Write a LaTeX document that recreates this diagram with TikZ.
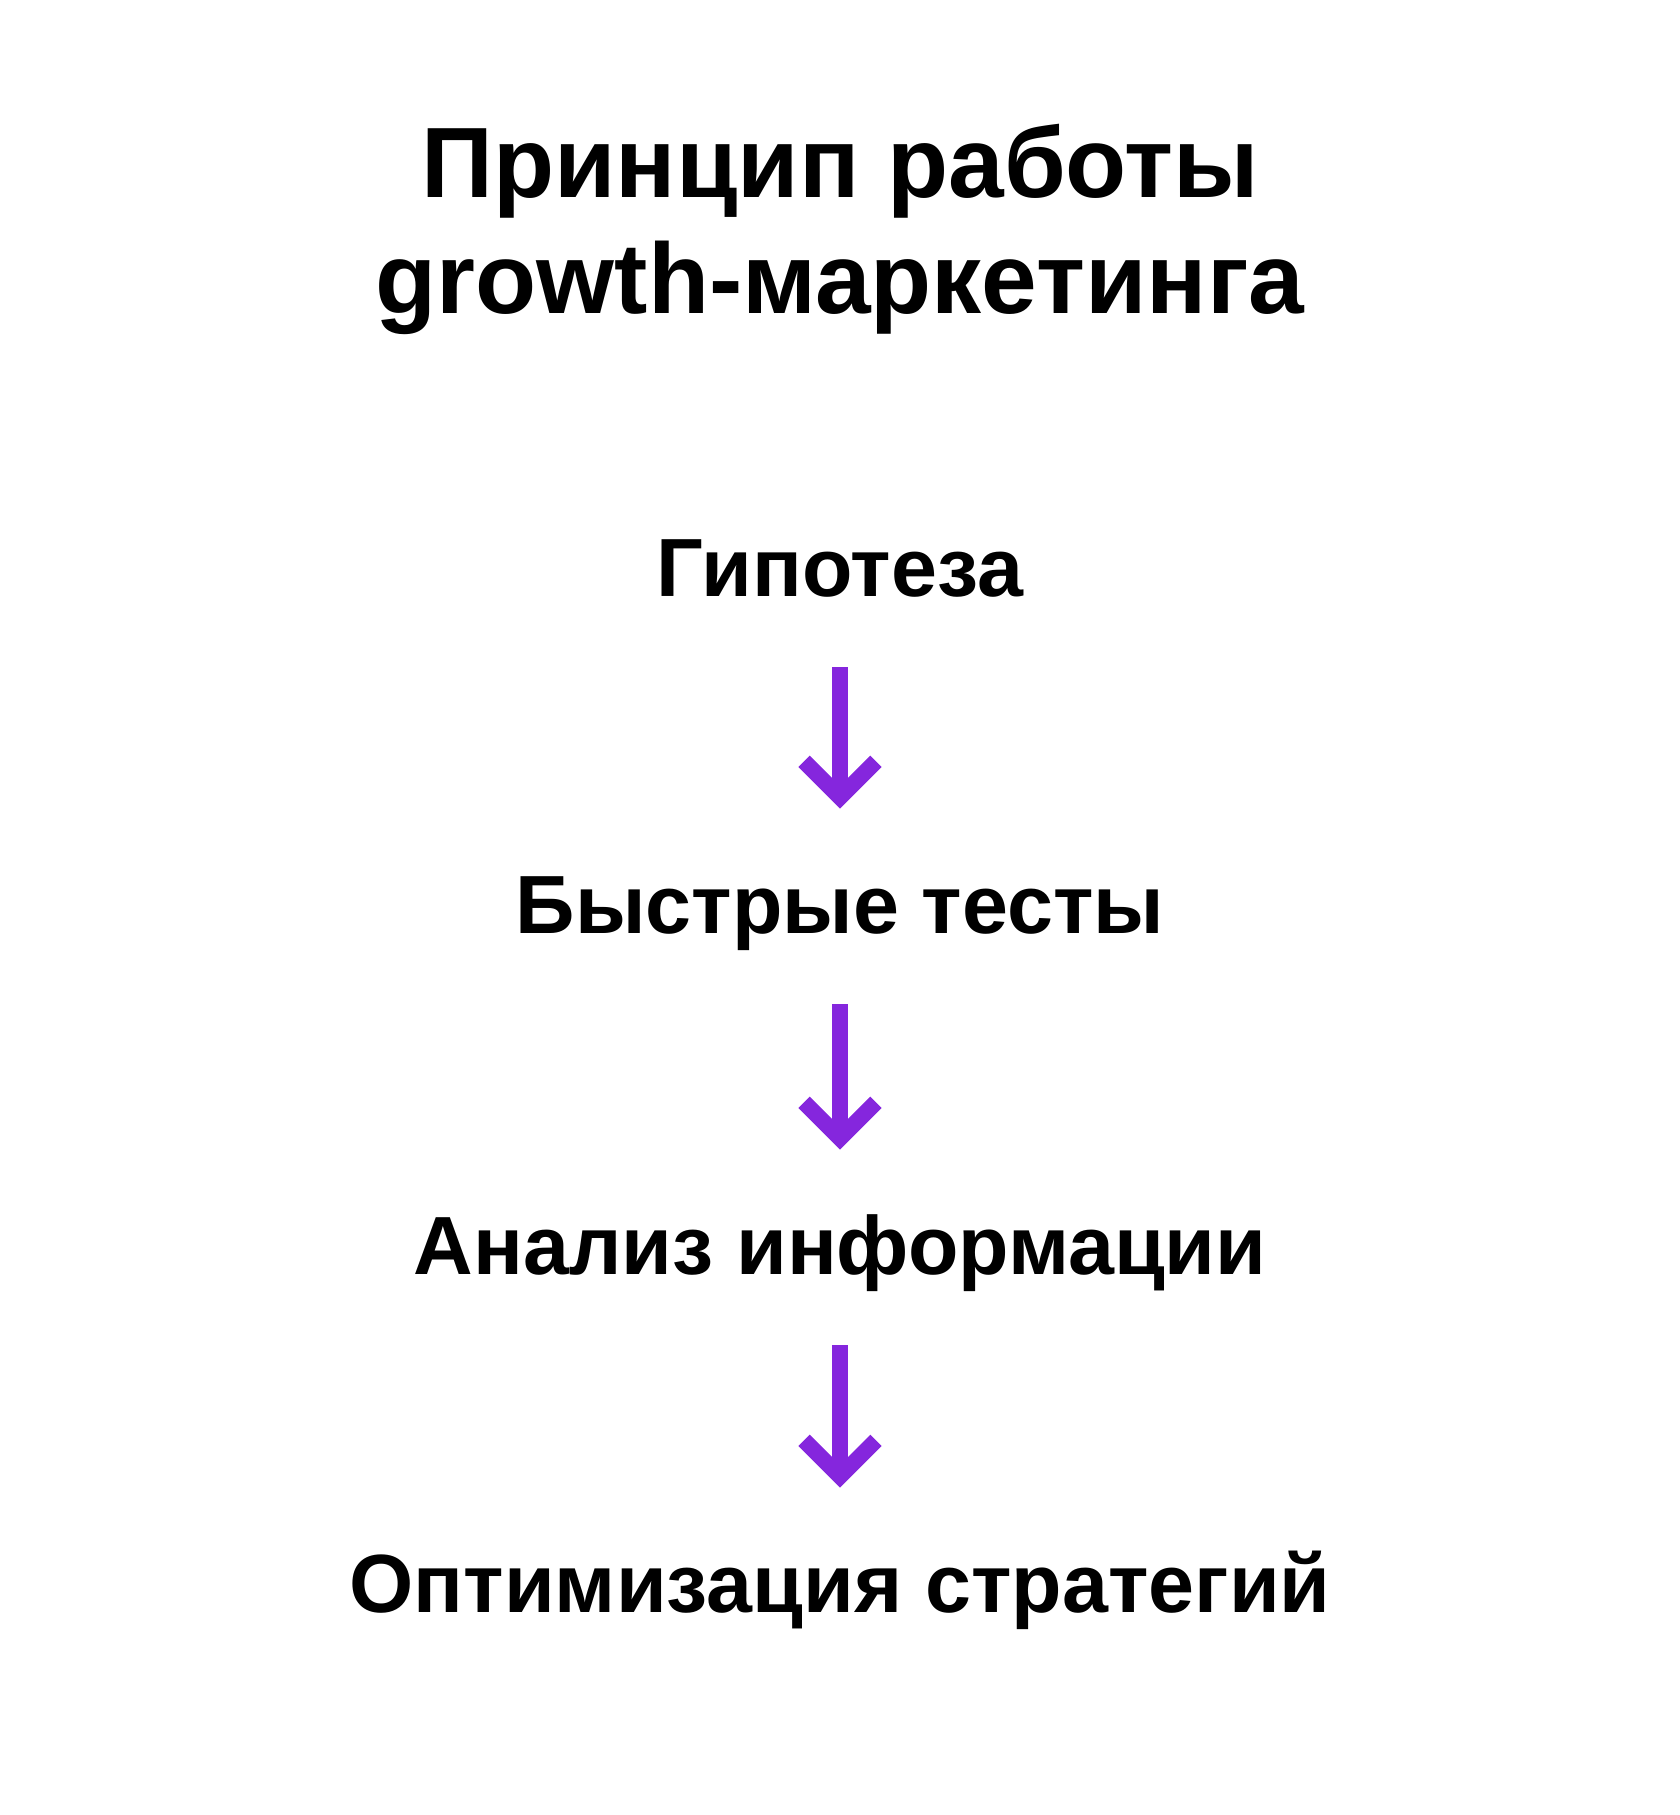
\documentclass[tikz,border=0pt]{standalone}
\usepackage{fontspec}
\setmainfont{Liberation Sans}
\usetikzlibrary{arrows.meta}

\definecolor{stepviolet}{HTML}{8526DD}

\tikzset{
	steptext/.style={font=\fontsize{41.3}{50}\selectfont\bfseries, inner sep=0pt, anchor=base, text height=30.5pt, text depth=0pt},
	titletext/.style={font=\fontsize{50}{58}\selectfont\bfseries, inner sep=0pt, align=center},
	steparrow/.style={stepviolet, line width=8pt, miter limit=10, shorten <=35.5pt, shorten >=31.5pt,
		-{Straight Barb[length=18pt,width=36pt]}},
}

\begin{document}
\begin{tikzpicture}[x=0.5pt,y=-0.5pt]

\def\midX{840}
\def\picW{1680}
\def\picH{1815}

% page
\useasboundingbox (0,0) rectangle (\picW,\picH);

% title (base is the last line)
\node [titletext, anchor=base] (title) at (\midX,313) {Принцип работы\\growth-маркетинга};

% steps
\node [steptext] (hyp)   at (\midX,596)  {Гипотеза};
\node [steptext] (tests) at (\midX,933)  {Быстрые тесты};
\node [steptext] (anal)  at (\midX,1274) {Анализ информации};
\node [steptext] (optim) at (\midX,1612) {Оптимизация стратегий};

% arrows between steps
\draw [steparrow] (hyp.south) -- (tests.north);
\draw [steparrow] (tests.south) -- (anal.north);
\draw [steparrow] (anal.south) -- (optim.north);

\end{tikzpicture}
\end{document}
